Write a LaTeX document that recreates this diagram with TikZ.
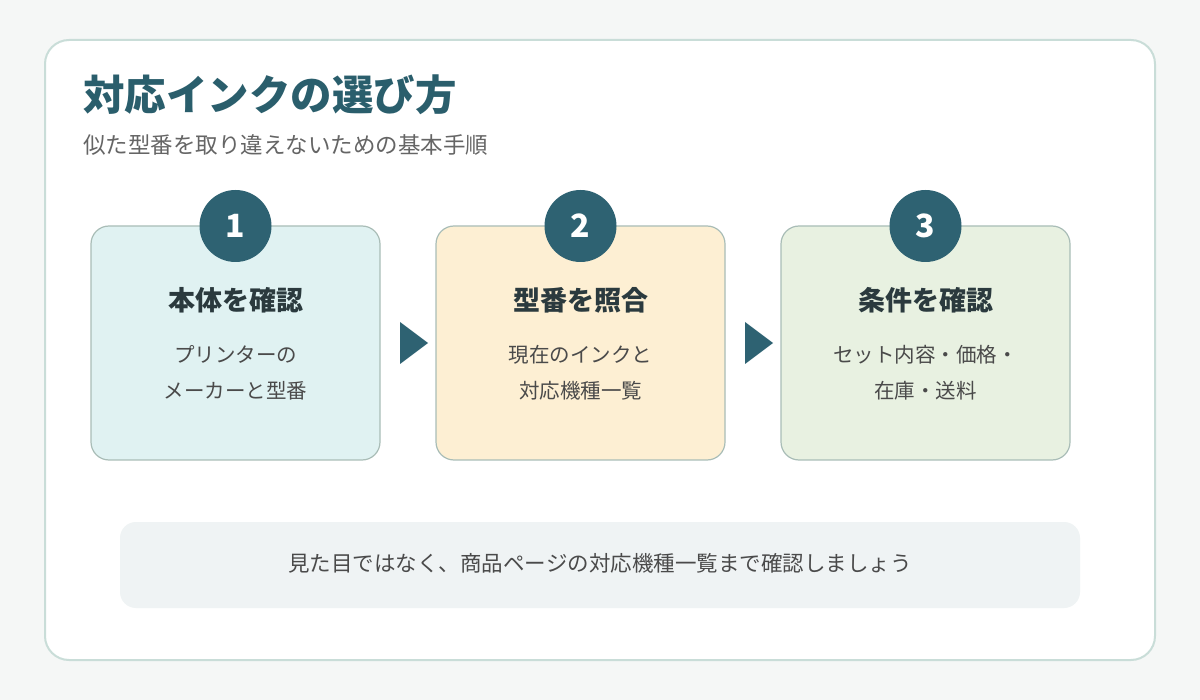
\documentclass[tikz,border=0pt]{standalone}
\usepackage{fontspec}
\setmainfont{Noto Sans CJK JP}
\definecolor{bg}{HTML}{F5F7F6}
\definecolor{cardb}{HTML}{C9DDD8}
\definecolor{teal}{HTML}{2E6272}
\definecolor{titlec}{HTML}{2A5E6C}
\definecolor{fa}{HTML}{E0F2F2}
\definecolor{fb}{HTML}{FDEFD3}
\definecolor{fc}{HTML}{E8F1E1}
\definecolor{boxb}{HTML}{A9BDB7}
\definecolor{head}{HTML}{2B3A3E}
\definecolor{txt}{HTML}{4A4A4A}
\definecolor{barf}{HTML}{EFF3F4}
\begin{document}
\begin{tikzpicture}[x=1pt,y=-1pt,
 stepbox/.style={draw=boxb,line width=1.2pt,rounded corners=18pt,minimum width=289pt,minimum height=234pt,inner sep=0},
 num/.style={circle,fill=teal,minimum size=72pt,inner sep=0,text=white,font=\fontsize{32}{34}\selectfont\bfseries},
 hd/.style={text=head,font=\fontsize{27}{30}\selectfont\bfseries},
 ds/.style={text=txt,font=\fontsize{20.5}{36}\selectfont,align=center},
 tri/.style={fill=teal}]
\fill[bg] (0,0) rectangle (1200,700);
\useasboundingbox (0,0) rectangle (1200,700);
\draw[draw=cardb,fill=white,line width=2pt,rounded corners=24pt] (45,40) rectangle (1155,660);
\node[anchor=west,inner sep=0,text=titlec,font=\fontsize{41.5}{44}\selectfont\bfseries] (title) at (83,95) {対応インクの選び方};
\node[anchor=west,inner sep=0,text=txt!85,font=\fontsize{22.5}{26}\selectfont] (sub) at (83,145) {似た型番を取り違えないための基本手順};
\foreach \i/\x/\f/\h/\d in {1/235.5/fa/本体を確認/{プリンターの\\メーカーと型番},2/580.5/fb/型番を照合/{現在のインクと\\対応機種一覧},3/925.5/fc/条件を確認/{セット内容・価格・\\在庫・送料}}{
 \node[stepbox,fill=\f] (b\i) at (\x,343) {};
 \node[num] (n\i) at (\x,226) {\i};
 \node[hd] (h\i) at (\x,300) {\h};
 \node[ds] (d\i) at (\x,373) {\d};
}
\fill[tri] (400,322) -- (428,343) -- (400,364) -- cycle;
\fill[tri] (745,322) -- (773,343) -- (745,364) -- cycle;
\fill[barf,rounded corners=16pt] (120,522) rectangle (1080,608);
\node[text=txt,font=\fontsize{21.5}{24}\selectfont] (note) at (600,563) {見た目ではなく、商品ページの対応機種一覧まで確認しましょう};
\end{tikzpicture}
\end{document}
